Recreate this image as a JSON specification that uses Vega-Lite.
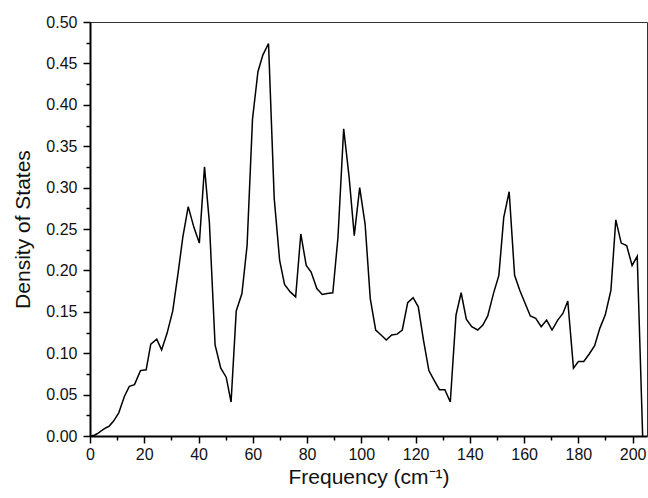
{
  "$schema": "https://vega.github.io/schema/vega-lite/v6.json",
  "width": 557,
  "height": 414,
  "autosize": {"type": "none"},
  "padding": {"left": 90, "top": 22, "right": 1, "bottom": 62},
  "background": "white",
  "config": {
    "view": {"stroke": "#333333", "strokeWidth": 1},
    "font": "Liberation Sans",
    "axis": {
      "domainColor": "black",
      "domainWidth": 2,
      "ticks": true,
      "tickColor": "black",
      "tickWidth": 1.5,
      "grid": false,
      "labelFont": "Liberation Sans",
      "labelFontSize": 16,
      "labelColor": "#111111",
      "titleFont": "Liberation Sans",
      "titleFontSize": 21,
      "titleFontWeight": "normal",
      "titleColor": "#111111"
    }
  },
  "data": {
    "values": [
      {"freq": 0, "dos": 0},
      {"freq": 1.6, "dos": 0.001},
      {"freq": 2.8, "dos": 0.003},
      {"freq": 4.0, "dos": 0.006},
      {"freq": 5.9, "dos": 0.010},
      {"freq": 7.1, "dos": 0.012},
      {"freq": 8.7, "dos": 0.018},
      {"freq": 10.6, "dos": 0.028},
      {"freq": 12.7, "dos": 0.048},
      {"freq": 14.5, "dos": 0.060},
      {"freq": 16.4, "dos": 0.062},
      {"freq": 18.6, "dos": 0.079},
      {"freq": 20.7, "dos": 0.080},
      {"freq": 22.4, "dos": 0.111},
      {"freq": 24.6, "dos": 0.117},
      {"freq": 26.4, "dos": 0.104},
      {"freq": 28.4, "dos": 0.124},
      {"freq": 30.5, "dos": 0.151},
      {"freq": 32.6, "dos": 0.200},
      {"freq": 34.2, "dos": 0.240},
      {"freq": 36.2, "dos": 0.277},
      {"freq": 38.3, "dos": 0.252},
      {"freq": 40.3, "dos": 0.233},
      {"freq": 42.2, "dos": 0.325},
      {"freq": 44.0, "dos": 0.258},
      {"freq": 46.1, "dos": 0.110},
      {"freq": 48.2, "dos": 0.082},
      {"freq": 50.2, "dos": 0.071},
      {"freq": 52.0, "dos": 0.041},
      {"freq": 53.9, "dos": 0.151},
      {"freq": 56.0, "dos": 0.172},
      {"freq": 57.9, "dos": 0.230},
      {"freq": 59.9, "dos": 0.383},
      {"freq": 61.9, "dos": 0.440},
      {"freq": 63.7, "dos": 0.460},
      {"freq": 65.8, "dos": 0.474},
      {"freq": 67.9, "dos": 0.287},
      {"freq": 69.9, "dos": 0.212},
      {"freq": 71.7, "dos": 0.183},
      {"freq": 73.8, "dos": 0.174},
      {"freq": 75.8, "dos": 0.168},
      {"freq": 77.7, "dos": 0.244},
      {"freq": 79.7, "dos": 0.206},
      {"freq": 81.5, "dos": 0.198},
      {"freq": 83.6, "dos": 0.178},
      {"freq": 85.6, "dos": 0.171},
      {"freq": 87.4, "dos": 0.172},
      {"freq": 89.5, "dos": 0.173},
      {"freq": 91.4, "dos": 0.240},
      {"freq": 93.5, "dos": 0.371},
      {"freq": 95.5, "dos": 0.313},
      {"freq": 97.4, "dos": 0.242},
      {"freq": 99.4, "dos": 0.300},
      {"freq": 101.4, "dos": 0.256},
      {"freq": 103.3, "dos": 0.166},
      {"freq": 105.3, "dos": 0.128},
      {"freq": 107.3, "dos": 0.122},
      {"freq": 109.2, "dos": 0.116},
      {"freq": 111.2, "dos": 0.122},
      {"freq": 113.2, "dos": 0.123},
      {"freq": 115.1, "dos": 0.128},
      {"freq": 117.1, "dos": 0.161},
      {"freq": 119.1, "dos": 0.167},
      {"freq": 121.0, "dos": 0.156},
      {"freq": 122.9, "dos": 0.116},
      {"freq": 124.9, "dos": 0.079},
      {"freq": 126.9, "dos": 0.067},
      {"freq": 128.8, "dos": 0.056},
      {"freq": 130.8, "dos": 0.056},
      {"freq": 132.8, "dos": 0.041},
      {"freq": 134.9, "dos": 0.146},
      {"freq": 136.8, "dos": 0.173},
      {"freq": 138.7, "dos": 0.141},
      {"freq": 140.7, "dos": 0.132},
      {"freq": 142.9, "dos": 0.128},
      {"freq": 144.8, "dos": 0.134},
      {"freq": 146.6, "dos": 0.145},
      {"freq": 148.7, "dos": 0.172},
      {"freq": 150.7, "dos": 0.194},
      {"freq": 152.5, "dos": 0.264},
      {"freq": 154.5, "dos": 0.295},
      {"freq": 156.5, "dos": 0.194},
      {"freq": 158.4, "dos": 0.176},
      {"freq": 160.4, "dos": 0.160},
      {"freq": 162.3, "dos": 0.145},
      {"freq": 164.3, "dos": 0.142},
      {"freq": 166.3, "dos": 0.132},
      {"freq": 168.3, "dos": 0.140},
      {"freq": 170.3, "dos": 0.128},
      {"freq": 172.4, "dos": 0.140},
      {"freq": 174.3, "dos": 0.148},
      {"freq": 176.1, "dos": 0.163},
      {"freq": 178.2, "dos": 0.082},
      {"freq": 180.0, "dos": 0.090},
      {"freq": 182.0, "dos": 0.090},
      {"freq": 184.0, "dos": 0.099},
      {"freq": 186.0, "dos": 0.109},
      {"freq": 187.9, "dos": 0.130},
      {"freq": 189.9, "dos": 0.146},
      {"freq": 192.0, "dos": 0.176},
      {"freq": 193.8, "dos": 0.261},
      {"freq": 195.8, "dos": 0.233},
      {"freq": 197.8, "dos": 0.230},
      {"freq": 199.8, "dos": 0.206},
      {"freq": 201.7, "dos": 0.217},
      {"freq": 203.7, "dos": 0.000}
    ]
  },
  "mark": {"type": "line", "color": "black", "strokeWidth": 1.5},
  "encoding": {
    "x": {
      "field": "freq",
      "type": "quantitative",
      "scale": {"domain": [0, 205.3], "nice": false, "zero": false},
      "axis": {
        "title": "Frequency (cm⁻¹)",
        "values": [0, 10, 20, 30, 40, 50, 60, 70, 80, 90, 100, 110, 120, 130, 140, 150, 160, 170, 180, 190, 200],
        "labelExpr": "datum.value % 20 === 0 ? datum.label : ''",
        "ticks": true,
        "tickSize": {"condition": {"test": "datum.value % 20 === 0", "value": 7}, "value": 4},
        "labelPadding": 3,
        "titlePadding": 4,
        "labelFlush": false
      }
    },
    "y": {
      "field": "dos",
      "type": "quantitative",
      "scale": {"domain": [0, 0.5], "nice": false},
      "axis": {
        "title": "Density of States",
        "values": [0, 0.025, 0.05, 0.075, 0.1, 0.125, 0.15, 0.175, 0.2, 0.225, 0.25, 0.275, 0.3, 0.325, 0.35, 0.375, 0.4, 0.425, 0.45, 0.475, 0.5],
        "format": ".2f",
        "labelExpr": "abs(datum.value * 20 - round(datum.value * 20)) < 0.001 ? datum.label : ''",
        "ticks": true,
        "tickSize": {"condition": {"test": "abs(datum.value * 20 - round(datum.value * 20)) < 0.001", "value": 7}, "value": 4},
        "labelPadding": 6,
        "titlePadding": 12,
        "labelFlush": false
      }
    }
  }
}
